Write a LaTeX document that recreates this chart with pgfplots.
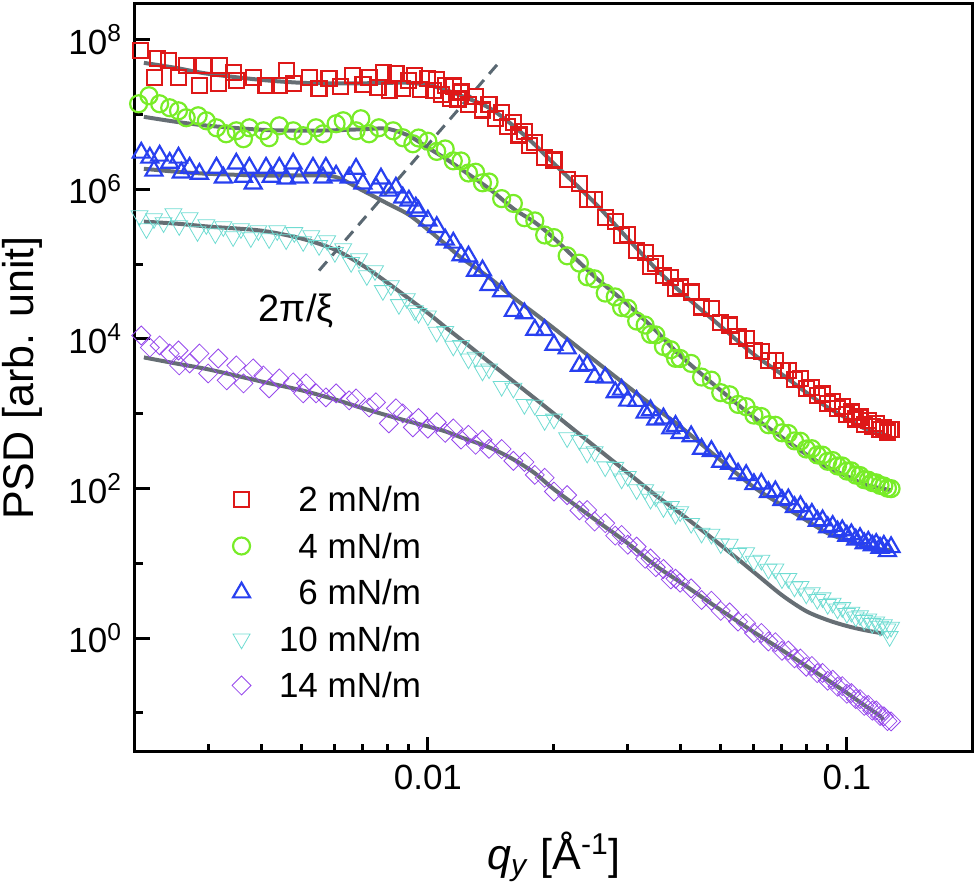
\documentclass[border=0pt]{standalone}
\usepackage{fontspec}
\setmainfont{Liberation Sans}
\usepackage{pgfplots}
\pgfplotsset{compat=1.18}
\usetikzlibrary{calc}

\definecolor{cRed}{RGB}{222,24,24}
\definecolor{cGreen}{RGB}{120,236,40}
\definecolor{cBlue}{RGB}{40,64,240}
\definecolor{cCyan}{RGB}{112,220,210}
\definecolor{cPurple}{RGB}{150,72,236}
\definecolor{fitgray}{RGB}{102,110,116}
\definecolor{dashgray}{RGB}{90,104,114}

\newcommand{\ticksize}{\fontsize{17.5}{20}\selectfont}
\newcommand{\labsize}{\fontsize{21.5}{25}\selectfont}

\pgfplotsset{
  datamark/.style={only marks, mark size=#1, every mark/.append style={line width=1.1pt, fill=none}},
  fitline/.style={forget plot, no marks, smooth, fitgray, line width=2pt},
}

\begin{document}
\begin{tikzpicture}
\begin{axis}[
  name=ax,
  xmode=log, ymode=log,
  scale only axis, width=419pt, height=374pt,
  xmin=0.002, xmax=0.2, ymin=0.03, ymax=3e8,
  axis line style={line width=1.5pt},
  tick style={line width=1.5pt, black},
  tick align=inside, tick pos=left,
  major tick length=7.5pt, minor tick length=4pt,
  xtick={0.01,0.1}, xticklabels={0.01,0.1},
  minor xtick={0.003,0.004,0.005,0.006,0.007,0.008,0.009,0.02,0.03,0.04,0.05,0.06,0.07,0.08,0.09},
  ytick={1,1e2,1e4,1e6,1e8},
  yticklabels={10\textsuperscript{0},10\textsuperscript{2},10\textsuperscript{4},10\textsuperscript{6},10\textsuperscript{8}},
  minor ytick={0.1,10,1e3,1e5,1e7},
  tick label style={font=\ticksize},
  xticklabel style={yshift=-3pt},
  yticklabel style={xshift=-3pt},
  label style={font=\labsize},
  xlabel={\textit{q}\textsubscript{\textit{y}} [Å\textsuperscript{-1}]},
  ylabel={PSD [arb. unit]},
  xlabel style={at={(axis description cs:0.5,-0.1404)}, anchor=center},
  ylabel style={at={(axis description cs:-0.1345,0.5)}, anchor=center, inner sep=0pt},
  legend cell align=right,
  legend style={draw=none, fill=none, font=\ticksize,
    at={(axis description cs:0.3413,0.3543)}, anchor=north east,
    inner sep=0pt, outer sep=0pt, row sep=10.75pt, column sep=14pt,
    nodes={inner sep=0pt, text height=12.5pt, text depth=0pt}},
]

% 2 mN/m
\addplot[datamark=3.75pt, cRed, mark=square] coordinates {
(0.00206,7.10e7) (0.00223,3.09e7) (0.00226,5.54e7) (0.00240,5.21e7) (0.00254,3.09e7) (0.00266,4.47e7)
(0.00285,2.42e7) (0.00291,4.47e7) (0.00316,2.57e7) (0.00318,4.47e7) (0.00343,3.61e7) (0.00349,2.82e7)
(0.00383,3.09e7) (0.00411,2.42e7) (0.00442,2.42e7) (0.0046,3.83e7) (0.00477,2.57e7) (0.00521,3.09e7)
(0.0055,2.20e7) (0.00581,3.00e7) (0.0062,2.34e7) (0.00662,3.29e7) (0.0070,2.49e7) (0.00724,3.09e7)
(0.0076,2.27e7) (0.00782,3.61e7) (0.0081,2.07e7) (0.00839,3.49e7) (0.0087,2.20e7) (0.00901,2.82e7)
(0.0093,3.29e7) (0.0096,2.14e7)
(0.0100,3.00e7) (0.0103,2.07e7) (0.0105,2.91e7) (0.0108,1.84e7) (0.011,2.45e7) (0.0113,1.64e7)
(0.0115,2.40e7) (0.0118,1.61e7) (0.012,2.00e7) (0.0125,1.35e7) (0.013,1.74e7) (0.0135,1.15e7)
(0.014,1.35e7) (0.0145,8.91e6) (0.015,1.07e7) (0.0155,6.92e6) (0.016,7.76e6) (0.0165,5.31e6)
(0.017,5.89e6) (0.0175,3.89e6) (0.018,4.22e6) (0.019,2.63e6) (0.020,2.47e6) (0.0215,1.36e6)
(0.023,1.19e6) (0.024,7.24e5) (0.025,7.26e5) (0.0265,4.24e5) (0.028,3.74e5) (0.029,2.40e5)
(0.030,2.51e5) (0.0315,1.52e5) (0.033,1.42e5) (0.034,9.33e4) (0.035,1.02e5) (0.0365,7.00e4)
(0.038,6.61e4) (0.039,4.68e4) (0.040,4.93e4)
(0.0425,4.24e4) (0.045,2.67e4) (0.0475,2.53e4) (0.050,1.64e4) (0.0525,1.53e4) (0.055,1.07e4)
(0.0575,1.02e4) (0.060,6.95e3) (0.0625,6.78e3) (0.065,5.16e3) (0.0675,5.20e3) (0.070,3.76e3)
(0.0725,3.82e3) (0.075,2.88e3) (0.0775,2.96e3) (0.080,2.16e3) (0.0825,2.25e3) (0.085,1.75e3)
(0.0875,1.83e3) (0.090,1.36e3) (0.0925,1.47e3) (0.095,1.17e3) (0.0975,1.26e3) (0.100,970)
(0.1025,1.05e3) (0.105,849) (0.1075,904) (0.110,714) (0.1125,807) (0.115,676) (0.1175,746)
(0.120,612) (0.1225,661) (0.125,568) (0.1275,612)
};
\addlegendentry{2 mN/m}

% 4 mN/m
\addplot[datamark=4.25pt, cGreen, mark=o] coordinates {
(0.00204,1.39e7) (0.00216,1.78e7) (0.00229,1.39e7) (0.00242,1.23e7) (0.00254,1.12e7) (0.00265,9.04e6)
(0.00283,9.61e6) (0.00296,8.24e6) (0.00313,6.64e6) (0.00330,5.52e6) (0.00349,6.05e6) (0.00363,4.74e6)
(0.00375,6.64e6) (0.00405,6.05e6) (0.00418,4.89e6) (0.00442,7.06e6) (0.00477,6.05e6) (0.00504,5.20e6)
(0.00541,6.64e6) (0.00562,5.52e6) (0.00604,7.52e6) (0.00628,8.24e6) (0.00674,6.05e6) (0.00692,8.77e6)
(0.00724,5.52e6) (0.00764,6.64e6) (0.00826,6.05e6) (0.00871,4.89e6) (0.00921,4.06e6)
(0.0095,4.85e6) (0.010,4.39e6) (0.0105,3.21e6) (0.011,3.46e6) (0.0115,2.40e6) (0.012,2.39e6)
(0.0125,1.65e6) (0.013,1.69e6) (0.0135,1.22e6) (0.014,1.25e6) (0.015,7.50e5) (0.016,6.47e5)
(0.017,4.17e5) (0.018,3.78e5) (0.019,2.45e5) (0.020,2.26e5) (0.0215,1.29e5) (0.023,1.03e5)
(0.024,6.76e4) (0.025,6.35e4) (0.0265,4.10e4) (0.028,3.64e4) (0.029,2.63e4) (0.030,2.56e4)
(0.0315,1.73e4) (0.033,1.53e4) (0.034,1.15e4) (0.035,1.13e4) (0.0365,7.91e3) (0.038,7.16e3)
(0.039,5.50e3) (0.040,5.47e3)
(0.0425,4.70e3) (0.045,3.09e3) (0.0475,2.81e3) (0.050,1.91e3) (0.0525,1.79e3) (0.055,1.33e3)
(0.0575,1.24e3) (0.060,957) (0.0625,916) (0.065,711) (0.0675,700) (0.070,555) (0.0725,543)
(0.075,433) (0.0775,428) (0.080,337) (0.0825,340) (0.085,281) (0.0875,279) (0.090,231)
(0.0925,236) (0.095,200) (0.0975,200) (0.100,171) (0.1025,172) (0.105,151) (0.1075,149)
(0.110,131) (0.1125,129) (0.115,120) (0.1175,119) (0.120,110) (0.1225,108) (0.125,101) (0.1275,99.5)
};
\addlegendentry{4 mN/m}

% 6 mN/m
\addplot[datamark=4.9pt, cBlue, mark=triangle] coordinates {
(0.00207,3.08e6) (0.00217,2.64e6) (0.00222,1.77e6) (0.00229,2.81e6) (0.00242,2.26e6) (0.00254,2.64e6)
(0.00258,1.67e6) (0.00270,1.94e6) (0.00285,1.61e6) (0.00313,1.94e6) (0.00325,1.43e6) (0.00349,2.20e6)
(0.00363,1.47e6) (0.00375,1.94e6) (0.00383,1.19e6) (0.00411,1.94e6) (0.00423,1.47e6) (0.00442,1.94e6)
(0.00459,1.39e6) (0.00477,2.20e6) (0.00493,1.43e6) (0.00532,1.94e6) (0.00562,1.43e6) (0.00571,1.94e6)
(0.00604,1.52e6) (0.00649,1.43e6) (0.00674,1.88e6) (0.00700,1.19e6) (0.00752,1.05e6) (0.00773,1.39e6)
(0.00807,9.57e5) (0.00839,1.05e6) (0.00871,7.73e5) (0.00901,7.05e5) (0.00936,5.68e5)
(0.0095,5.13e5) (0.010,3.81e5) (0.0105,3.12e5) (0.011,2.12e5) (0.0115,1.93e5) (0.012,1.31e5)
(0.0125,1.26e5) (0.013,8.13e4) (0.0135,8.22e4) (0.014,5.25e4) (0.015,4.32e4) (0.016,2.36e4)
(0.017,2.19e4) (0.018,1.32e4) (0.019,1.31e4) (0.020,8.30e3) (0.0215,7.45e3) (0.023,4.37e3)
(0.024,4.47e3) (0.025,3.10e3) (0.0265,3.03e3) (0.028,1.93e3) (0.029,2.09e3) (0.030,1.49e3)
(0.0315,1.48e3) (0.033,1.03e3) (0.034,1.11e3) (0.035,834) (0.0365,863) (0.038,634) (0.039,685)
(0.040,550)
(0.0425,498) (0.045,338) (0.0475,316) (0.050,227) (0.0525,213) (0.055,158) (0.0575,151)
(0.060,114) (0.0625,116) (0.065,89.3) (0.0675,91.4) (0.070,70.1) (0.0725,71.4) (0.075,56.4)
(0.0775,57.9) (0.080,45.2) (0.0825,45.7) (0.085,36.9) (0.0875,37.5) (0.090,30.3) (0.0925,31.5)
(0.095,26.5) (0.0975,27.6) (0.100,23.3) (0.1025,24.4) (0.105,20.7) (0.1075,21.7) (0.110,18.5)
(0.1125,19.4) (0.115,17.3) (0.1175,18.1) (0.120,16.1) (0.1225,17.1) (0.125,14.5) (0.1275,16.4)
};
\addlegendentry{6 mN/m}

% 10 mN/m
\addplot[datamark=4.9pt, cCyan, mark=triangle, mark options={rotate=180}] coordinates {
(0.00205,4.44e5) (0.00213,2.98e5) (0.00222,4.05e5) (0.00234,3.58e5) (0.00247,4.72e5) (0.00255,3.27e5)
(0.00270,4.18e5) (0.00282,2.72e5) (0.00296,3.37e5) (0.00311,2.55e5) (0.00325,3.17e5) (0.00343,2.33e5)
(0.00358,2.98e5) (0.00378,2.26e5) (0.00394,2.80e5) (0.00418,2.19e5) (0.00437,2.80e5) (0.00459,2.12e5)
(0.00480,2.64e5) (0.00504,2.00e5) (0.00527,2.40e5) (0.00550,1.77e5) (0.00575,2.06e5) (0.00600,1.43e5)
(0.00628,1.61e5) (0.00656,1.05e5) (0.00685,1.18e5) (0.00715,7.02e4) (0.00748,8.18e4) (0.00781,4.43e4)
(0.00816,5.16e4) (0.00853,2.88e4) (0.00891,3.46e4) (0.00931,2.39e4)
(0.0095,2.19e4) (0.010,2.03e4) (0.0105,1.23e4) (0.011,1.26e4) (0.0115,8.02e3) (0.012,8.17e3)
(0.0125,5.40e3) (0.013,5.69e3) (0.0135,3.72e3) (0.014,3.98e3) (0.015,2.32e3) (0.016,2.19e3)
(0.017,1.33e3) (0.018,1.30e3) (0.019,811) (0.020,849) (0.0215,478) (0.023,441) (0.024,297)
(0.025,311) (0.0265,195) (0.028,192) (0.029,134) (0.030,145) (0.0315,96.4) (0.033,96.2)
(0.034,71.8) (0.035,77.4) (0.0365,55.6) (0.038,57.5) (0.039,45.2) (0.040,48.9)
(0.0425,34.2) (0.045,25.3) (0.0475,24.5) (0.050,18.3) (0.0525,18.0) (0.055,13.6) (0.0575,13.9)
(0.060,10.7) (0.0625,11.0) (0.065,8.34) (0.0675,8.41) (0.070,6.22) (0.0725,6.28) (0.075,4.82)
(0.0775,4.91) (0.080,3.89) (0.0825,4.06) (0.085,3.30) (0.0875,3.46) (0.090,2.82) (0.0925,2.94)
(0.095,2.45) (0.0975,2.56) (0.100,2.14) (0.1025,2.22) (0.105,1.92) (0.1075,2.00) (0.110,1.73)
(0.1125,1.81) (0.115,1.57) (0.1175,1.65) (0.120,1.44) (0.1225,1.51) (0.125,1.33) (0.1265,1.05)
(0.1275,1.40)
};
\addlegendentry{10 mN/m}

% 14 mN/m
\addplot[datamark=3.35pt, cPurple, mark=square, mark options={rotate=45}] coordinates {
(0.00207,1.11e4) (0.00217,7.67e3) (0.00229,8.17e3) (0.00242,6.38e3) (0.00254,7.00e3) (0.00255,4.42e3)
(0.00270,4.70e3) (0.00285,6.38e3) (0.00299,3.45e3) (0.00316,5.47e3) (0.00331,2.79e3) (0.00349,4.42e3)
(0.00363,2.54e3) (0.00383,4.03e3) (0.00405,3.24e3) (0.00418,2.18e3) (0.00442,2.96e3) (0.00477,2.62e3)
(0.00504,1.87e3) (0.00512,2.54e3) (0.00541,1.87e3) (0.00571,1.65e3) (0.00604,1.87e3) (0.00649,1.51e3)
(0.00674,1.60e3) (0.00724,1.21e3) (0.00752,1.42e3) (0.00807,741) (0.00839,1.18e3) (0.00871,1.01e3)
(0.00921,656)
(0.0095,877) (0.010,631) (0.0105,769) (0.011,555) (0.0115,635) (0.012,451) (0.0125,522)
(0.013,384) (0.0135,448) (0.014,339) (0.015,337) (0.016,234) (0.017,226) (0.018,152)
(0.019,139) (0.020,91.0) (0.0215,81.5) (0.023,50.9) (0.024,51.5) (0.025,36.2) (0.0265,34.4)
(0.028,23.4) (0.029,23.9) (0.030,17.7) (0.0315,16.7) (0.033,11.5) (0.034,11.6) (0.035,8.85)
(0.0365,8.41) (0.038,6.08) (0.039,6.22) (0.040,5.50)
(0.0425,4.62) (0.045,3.23) (0.0475,3.16) (0.050,2.31) (0.0525,2.21) (0.055,1.66) (0.0575,1.58)
(0.060,1.17) (0.0625,1.17) (0.065,0.902) (0.0675,0.881) (0.070,0.676) (0.0725,0.682) (0.075,0.536)
(0.0775,0.533) (0.080,0.413) (0.0825,0.424) (0.085,0.340) (0.0875,0.342) (0.090,0.269)
(0.0925,0.278) (0.095,0.224) (0.0975,0.228) (0.100,0.180) (0.1025,0.184) (0.105,0.153)
(0.1075,0.153) (0.110,0.124) (0.1125,0.128) (0.115,0.107) (0.1175,0.108) (0.120,0.091)
(0.1225,0.090) (0.125,0.0776) (0.1275,0.0769)
};
\addlegendentry{14 mN/m}

% fits
\addplot[fitline] coordinates {
(0.0021,4.90e7) (0.0025,4.20e7) (0.003,3.49e7) (0.004,2.90e7) (0.005,2.65e7) (0.006,2.61e7)
(0.007,2.61e7) (0.008,2.65e7) (0.009,2.65e7) (0.01,2.49e7) (0.011,2.14e7) (0.012,1.78e7)
(0.014,1.23e7) (0.016,7.06e6) (0.018,3.94e6) (0.02,2.20e6) (0.025,6.62e5) (0.03,2.19e5)
(0.035,8.71e4) (0.04,4.30e4) (0.05,1.47e4) (0.06,6.19e3) (0.07,3.35e3) (0.08,1.92e3)
(0.09,1.21e3) (0.1,865) (0.11,637) (0.12,546) (0.128,483)
};
\addplot[fitline] coordinates {
(0.0021,9.31e6) (0.0025,8.00e6) (0.003,7.06e6) (0.004,6.25e6) (0.005,6.07e6) (0.006,6.15e6)
(0.007,6.35e6) (0.008,6.44e6) (0.009,5.20e6) (0.01,3.59e6) (0.011,2.59e6) (0.012,1.86e6)
(0.014,1.02e6) (0.016,5.51e5) (0.018,3.61e5) (0.02,2.21e5) (0.025,6.81e4) (0.03,2.88e4)
(0.035,1.29e4) (0.04,6.00e3) (0.05,2.05e3) (0.06,893) (0.07,483) (0.08,286) (0.09,192)
(0.1,146) (0.11,114) (0.12,101) (0.128,94.6)
};
\addplot[fitline] coordinates {
(0.0021,1.88e6) (0.0025,1.72e6) (0.003,1.61e6) (0.004,1.53e6) (0.005,1.53e6) (0.006,1.47e6)
(0.007,9.57e5) (0.008,6.47e5) (0.009,4.58e5) (0.01,2.89e5) (0.011,1.86e5) (0.012,1.22e5)
(0.014,6.61e4) (0.016,3.57e4) (0.018,2.18e4) (0.02,1.38e4) (0.025,5.15e3) (0.03,2.31e3)
(0.035,1.18e3) (0.04,676) (0.05,238) (0.06,104) (0.07,59.7) (0.08,37.6) (0.09,25.2)
(0.1,20.3) (0.11,16.9) (0.12,15.4) (0.128,15.0)
};
\addplot[fitline] coordinates {
(0.0021,3.69e5) (0.0025,3.48e5) (0.003,3.17e5) (0.004,2.80e5) (0.005,2.19e5) (0.006,1.56e5)
(0.007,9.55e4) (0.008,5.66e4) (0.009,3.46e4) (0.01,2.22e4) (0.011,1.44e4) (0.012,9.82e3)
(0.014,4.90e3) (0.016,2.70e3) (0.018,1.60e3) (0.02,998) (0.025,366) (0.03,162) (0.035,81.1)
(0.04,46.7) (0.05,17.5) (0.06,7.60) (0.07,3.75) (0.08,2.29) (0.09,1.74) (0.1,1.45) (0.11,1.28)
(0.12,1.17) (0.122,1.13)
};
\addplot[fitline] coordinates {
(0.0021,5.65e3) (0.0025,4.70e3) (0.003,3.90e3) (0.004,2.70e3) (0.005,2.05e3) (0.006,1.55e3)
(0.007,1.18e3) (0.008,948) (0.009,789) (0.01,676) (0.011,581) (0.012,483) (0.014,355)
(0.016,245) (0.018,160) (0.02,97.5) (0.025,38.8) (0.03,18.5) (0.035,9.27) (0.04,5.60)
(0.05,2.37) (0.06,1.20) (0.07,0.692) (0.08,0.423) (0.09,0.275) (0.1,0.185) (0.11,0.127)
(0.12,0.091) (0.122,0.080)
};

% correlation length guide
\addplot[forget plot, dashgray, line width=1.5pt, dash pattern=on 6pt off 4pt] coordinates {
(0.0055,8.19e4) (0.01476,4.90e7)
};
\node[font=\fontsize{19}{22}\selectfont] at (axis cs:0.00485,2.39e4) {2π/ξ};

\end{axis}
\pgfresetboundingbox
\path[use as bounding box] ($(ax.south west)+(-67.5pt,-71.5pt)$) rectangle ($(ax.north east)+(2pt,2pt)$);
\end{tikzpicture}
\end{document}
